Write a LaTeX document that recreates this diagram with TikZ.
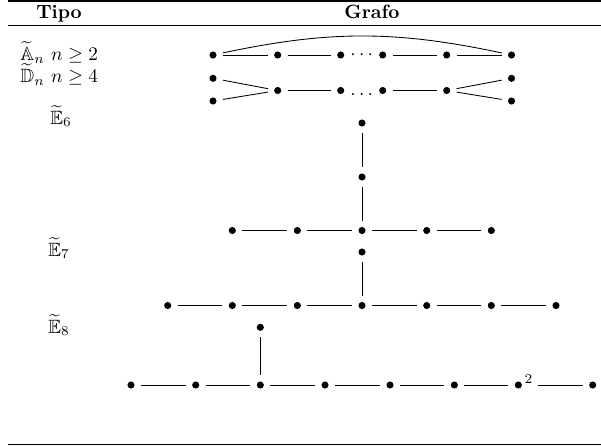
\documentclass[tikz,border=0pt]{standalone}
\usepackage{amssymb}
\begin{document}
\begin{tikzpicture}[x=0.52pt,y=-0.52pt,
  vtx/.style={circle,fill=black,inner sep=0pt,minimum size=3.7pt,outer sep=3.35pt},
  edge/.style={line width=0.45pt},
  rulethick/.style={line width=0.8pt},
  rulethin/.style={line width=0.5pt},
  lbl/.style={anchor=base west,inner sep=0pt},
  head/.style={anchor=base,inner sep=0pt}]
\useasboundingbox (0,0) rectangle (601,446);
% rules
\draw[rulethick] (8,0.9) -- (601,0.9);
\draw[rulethin] (8,25.5) -- (601,25.5);
\draw[rulethick] (8,444.5) -- (601,444.5);
% headers
\node[head] (hT) at (59,18.4) {\textbf{Tipo}};
\node[head] (hG) at (372,18.4) {\textbf{Grafo}};
% labels
\node[lbl] (lA) at (20,60.6) {$\widetilde{\mathbb{A}}_n$ $n\geq 2$};
\node[lbl] (lD) at (20,82.6) {$\widetilde{\mathbb{D}}_n$ $n\geq 4$};
\node[lbl] (l6) at (50,124) {$\widetilde{\mathbb{E}}_6$};
\node[lbl] (l7) at (48,256) {$\widetilde{\mathbb{E}}_7$};
\node[lbl] (l8) at (48,333) {$\widetilde{\mathbb{E}}_8$};
% A_n
\node[vtx] (a1) at (213,55) {};
\node[vtx] (a2) at (277.7,55) {};
\node[vtx] (a3) at (340.7,55) {};
\node[vtx] (a4) at (382.7,55) {};
\node[vtx] (a5) at (446.7,55) {};
\node[vtx] (a6) at (511.5,55) {};
\node[inner sep=0pt] (adots) at (361.7,55) {$\cdots$};
\draw[edge] (a1) -- (a2);
\draw[edge] (a2) -- (a3);
\draw[edge] (a4) -- (a5);
\draw[edge] (a5) -- (a6);
\draw[edge] (a1) to[bend left=12] (a6);
% D_n
\node[vtx] (d1) at (213,78.3) {};
\node[vtx] (d2) at (213,101) {};
\node[vtx] (d3) at (277.7,90.5) {};
\node[vtx] (d4) at (340.7,90.5) {};
\node[vtx] (d5) at (382.7,90.5) {};
\node[vtx] (d6) at (446.7,90.5) {};
\node[vtx] (d7) at (511.5,78.3) {};
\node[vtx] (d8) at (511.5,101) {};
\node[anchor=base,inner sep=0pt] (ddots) at (361.7,95) {$\ldots$};
\draw[edge] (d1) -- (d3);
\draw[edge] (d2) -- (d3);
\draw[edge] (d3) -- (d4);
\draw[edge] (d5) -- (d6);
\draw[edge] (d6) -- (d7);
\draw[edge] (d6) -- (d8);
% E6
\node[vtx] (s1) at (362,123) {};
\node[vtx] (s2) at (362,177) {};
\node[vtx] (r1) at (232.3,230.5) {};
\node[vtx] (r2) at (297.3,230.5) {};
\node[vtx] (r3) at (362,230.5) {};
\node[vtx] (r4) at (426.7,230.5) {};
\node[vtx] (r5) at (491.3,230.5) {};
\draw[edge] (s1) -- (s2);
\draw[edge] (s2) -- (r3);
\draw[edge] (r1) -- (r2);
\draw[edge] (r2) -- (r3);
\draw[edge] (r3) -- (r4);
\draw[edge] (r4) -- (r5);
% E7
\node[vtx] (u1) at (362,252) {};
\node[vtx] (g1) at (167.7,305.5) {};
\node[vtx] (g2) at (232.3,305.5) {};
\node[vtx] (g3) at (297.3,305.5) {};
\node[vtx] (g4) at (362,305.5) {};
\node[vtx] (g5) at (426.7,305.5) {};
\node[vtx] (g6) at (491.3,305.5) {};
\node[vtx] (g7) at (556,305.5) {};
\draw[edge] (u1) -- (g4);
\draw[edge] (g1) -- (g2);
\draw[edge] (g2) -- (g3);
\draw[edge] (g3) -- (g4);
\draw[edge] (g4) -- (g5);
\draw[edge] (g5) -- (g6);
\draw[edge] (g6) -- (g7);
% E8
\node[vtx] (w1) at (260.3,327.3) {};
\node[vtx] (h1) at (131,385) {};
\node[vtx] (h2) at (195.7,385) {};
\node[vtx] (h3) at (260.3,385) {};
\node[vtx] (h4) at (325,385) {};
\node[vtx] (h5) at (390,385) {};
\node[vtx] (h6) at (454.3,385) {};
\node[vtx] (h7) at (518.3,385) {};
\node[vtx] (h8) at (592.7,385) {};
\node[inner sep=0pt] (sup) at (528.4,379) {$\scriptstyle 2$};
\draw[edge] (w1) -- (h3);
\draw[edge] (h1) -- (h2);
\draw[edge] (h2) -- (h3);
\draw[edge] (h3) -- (h4);
\draw[edge] (h4) -- (h5);
\draw[edge] (h5) -- (h6);
\draw[edge] (h6) -- (h7);
\draw[edge,shorten <=5.2pt] (h7) -- (h8);
\end{tikzpicture}
\end{document}
